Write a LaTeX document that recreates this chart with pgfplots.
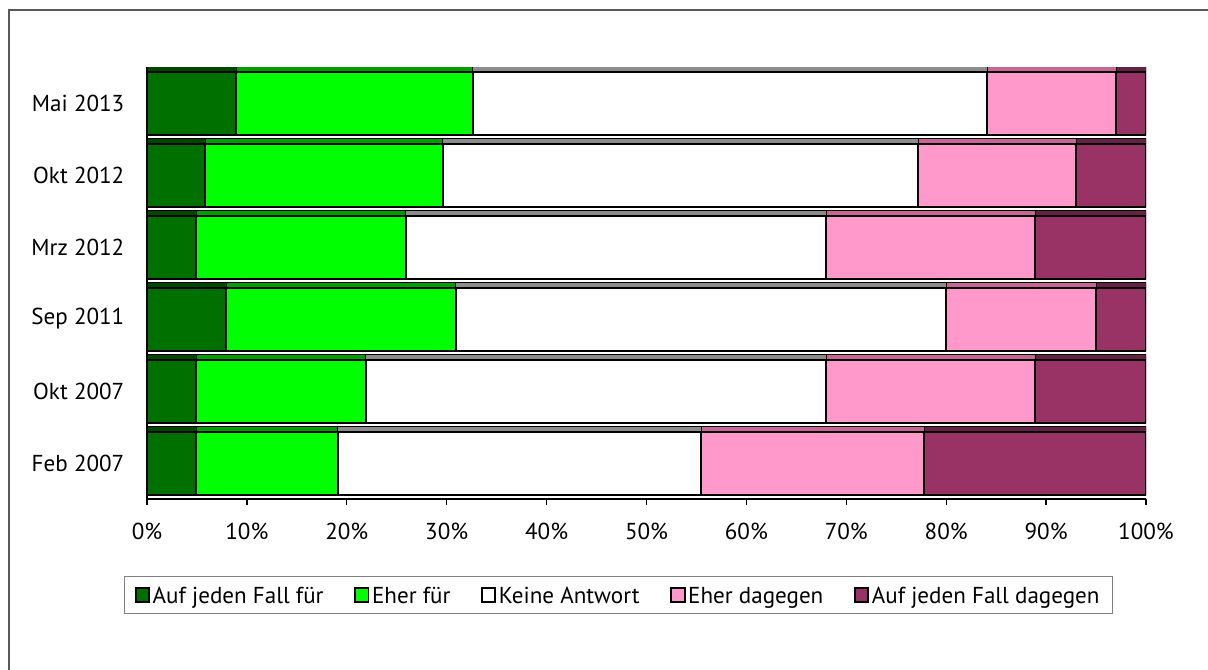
\documentclass[border=0pt]{standalone}
\usepackage{pgfplots}
\pgfplotsset{compat=1.18}
\usepackage{pgfplotstable}
\usepackage{fontspec}
\setmainfont{PT Sans}
\definecolor{dgreen}{HTML}{007000}
\definecolor{lgreen}{HTML}{00FF00}
\definecolor{lpink}{HTML}{FF99CC}
\definecolor{dpurple}{HTML}{993366}
\definecolor{tdgreen}{HTML}{004A00}
\definecolor{tlgreen}{HTML}{00A000}
\definecolor{twhite}{HTML}{8C8C8C}
\definecolor{tpink}{HTML}{C86496}
\definecolor{tpurple}{HTML}{662244}
\pgfplotstableread{
y a b c d e
0 4.9 14.2 36.4 22.3 22.2
1 4.9 17.0 46.1 20.9 11.1
2 7.9 23.0 49.1 15.0 5.0
3 4.9 21.0 42.1 20.9 11.1
4 5.8 23.8 47.6 15.8 7.0
5 8.9 23.7 51.5 12.9 3.0
}\data
\begin{document}
\begin{tikzpicture}
\useasboundingbox (0,0) rectangle (906pt,-501.75pt);
\draw[gray!70!black, line width=1pt] (6.75pt,-510pt) -- (6.75pt,-7.5pt) -- (915pt,-7.5pt);
\pgfplotsset{
  base/.style={
    at={(110.25pt,-374.25pt)}, anchor=south west,
    scale only axis, width=749.25pt, height=324pt,
    xmin=0, xmax=100, ymin=-0.5, ymax=5.5,
    xbar stacked, bar width=0.875,
  },
}
% top faces (3D effect)
\begin{axis}[base, hide axis, bar width=0.07, bar shift=0.47]
\addplot[draw=black, line width=0.6pt, fill=tdgreen] table[x=a,y=y]{\data};
\addplot[draw=black, line width=0.6pt, fill=tlgreen] table[x=b,y=y]{\data};
\addplot[draw=black, line width=0.6pt, fill=twhite] table[x=c,y=y]{\data};
\addplot[draw=black, line width=0.6pt, fill=tpink] table[x=d,y=y]{\data};
\addplot[draw=black, line width=0.6pt, fill=tpurple] table[x=e,y=y]{\data};
\end{axis}
\begin{axis}[base,
  font=\fontsize{17.3}{20}\selectfont,
  axis x line*=bottom, axis y line*=left,
  axis line style={black, line width=1.4pt},
  tick align=outside,
  xtick={0,10,...,100},
  xticklabels={0\%,10\%,20\%,30\%,40\%,50\%,60\%,70\%,80\%,90\%,100\%},
  x tick label style={yshift=-10pt},
  major tick length=4.5pt,
  tick style={black, line width=1pt},
  ytick={0,...,5},
  yticklabels={Feb 2007, Okt 2007, Sep 2011, Mrz 2012, Okt 2012, Mai 2013},
  y tick style={draw=none},
  y tick label style={xshift=-9pt},
  extra y ticks={-0.5,0.5,1.5,2.5,3.5,4.5,5.5},
  extra y tick labels={},
  extra y tick style={tick style={draw=black, line width=1pt}, major tick length=4pt},
  legend style={at={(0.472,-0.222)}, anchor=center, legend columns=-1,
    draw=gray, line width=0.8pt, inner xsep=8pt, inner ysep=4pt,
    /tikz/every even column/.append style={column sep=21pt},
    font=\fontsize{17.3}{20}\selectfont},
  legend image code/.code={\draw[#1, line width=1.4pt, draw=black] (0pt,-5pt) rectangle (10pt,5pt);},
]
\addplot[draw=black, line width=1.5pt, fill=dgreen] table[x=a,y=y]{\data};
\addplot[draw=black, line width=1.5pt, fill=lgreen] table[x=b,y=y]{\data};
\addplot[draw=black, line width=1.5pt, fill=white] table[x=c,y=y]{\data};
\addplot[draw=black, line width=1.5pt, fill=lpink] table[x=d,y=y]{\data};
\addplot[draw=black, line width=1.5pt, fill=dpurple] table[x=e,y=y]{\data};
\legend{\strut Auf jeden Fall für, \strut Eher für, \strut Keine Antwort, \strut Eher dagegen, \strut Auf jeden Fall dagegen}
\end{axis}
\end{tikzpicture}
\end{document}
